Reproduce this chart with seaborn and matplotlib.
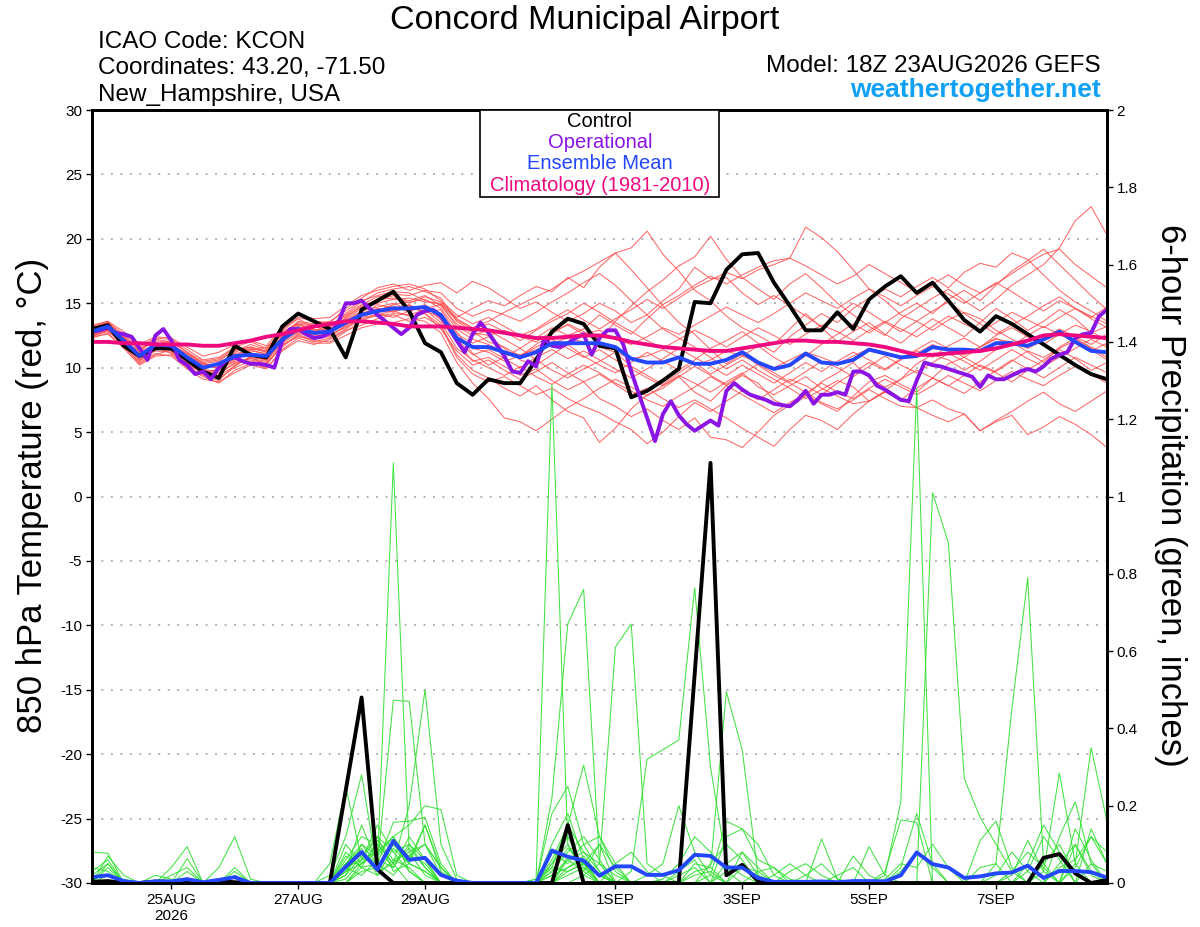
import matplotlib
matplotlib.use("Agg")
import matplotlib.pyplot as plt
import seaborn as sns
import pandas as pd
from matplotlib.patches import Rectangle

# ------------------------------------------------------------------ data
hours6 = list(range(0, 385, 6))      # 18Z 23AUG2026 + forecast hours (6-hourly)
hours3 = list(range(0, 385, 3))      # operational run is 3-hourly

xtick_hours = [30, 78, 126, 198, 246, 294, 342]
xtick_labels = ["25AUG\n2026", "27AUG", "29AUG", "1SEP", "3SEP", "5SEP", "7SEP"]
temp_ticks = [-30, -25, -20, -15, -10, -5, 0, 5, 10, 15, 20, 25, 30]
temp_tick_labels = ["-30", "-25", "-20", "-15", "-10", "-5", "0", "5", "10", "15", "20", "25", "30"]
precip_ticks = [0, 0.2, 0.4, 0.6, 0.8, 1.0, 1.2, 1.4, 1.6, 1.8, 2.0]
precip_tick_labels = ["0", "0.2", "0.4", "0.6", "0.8", "1", "1.2", "1.4", "1.6", "1.8", "2"]

control_temp = [13.0, 13.3, 11.7, 10.9, 11.5, 11.5, 10.6, 9.7, 9.2, 11.7, 11.0, 10.8, 13.2, 14.2, 13.6,
                13.0, 10.8, 14.5, 15.2, 15.9, 14.4, 11.9,
                11.2, 8.8, 7.9, 9.1, 8.8, 8.8, 10.6, 12.8, 13.8, 13.4, 11.7, 11.5, 7.7, 8.2, 9.0, 9.9,
                15.1, 15.0, 17.6, 18.8,
                18.9, 16.6, 14.8, 12.9, 12.9, 14.3, 13.0, 15.3, 16.3, 17.1, 15.8, 16.6, 15.2, 13.7,
                12.8, 14.0, 13.4, 12.6, 11.8, 11.0, 10.2, 9.5, 9.1]

oper_temp = [12.8, 12.9, 13.1, 12.7, 12.6, 12.4, 11.5, 10.6, 12.5, 13.0, 12.1, 10.6, 10.2, 9.5, 9.7,
             9.1, 10.0, 10.6, 10.8, 10.5, 10.3, 10.3, 10.2, 10.0, 12.1, 13.0, 13.0, 12.6, 12.3, 12.4,
             12.7, 13.4, 15.0, 15.0, 15.2, 14.6, 14.1, 13.6, 13.1, 12.6, 13.1, 14.1,
             14.4, 14.5, 14.0, 13.1, 12.1, 11.2, 12.6, 13.5, 12.7, 11.8, 10.9, 9.7, 9.6, 10.5,
             10.1, 12.2, 11.7, 11.6, 11.9, 12.3, 12.6, 11.0, 12.3, 12.9, 12.9, 11.8, 9.7, 7.9,
             6.1, 4.3, 6.4, 7.4, 6.3, 5.6, 5.1, 5.5, 5.9, 5.5, 8.2, 8.8, 8.3, 7.9,
             7.7, 7.5, 7.2, 7.1, 7.0, 7.5, 8.2, 7.2, 7.9, 7.9, 8.1, 7.9, 9.7, 9.7, 9.4, 8.6,
             8.3, 7.9, 7.5, 7.4, 9.0, 10.4, 10.2, 10.1, 9.9, 9.7, 9.5, 9.3, 8.5, 9.4, 9.1, 9.1,
             9.4, 9.7, 9.9, 9.7, 10.1, 10.7, 11.0, 11.2, 12.3, 12.6, 12.7, 14.0, 14.5]

ens_mean_temp = [12.8, 13.2, 12.1, 10.9, 11.8, 11.7, 10.8, 10.0, 10.3, 10.9, 11.0, 10.9, 12.2, 13.0,
                 12.7, 12.8, 13.5, 14.1, 14.4, 14.6, 14.6, 14.7, 14.1, 12.3, 11.6, 11.6, 11.2, 10.8,
                 11.2, 11.9, 11.9, 11.9, 11.9, 11.6, 10.7, 10.4, 10.4, 10.8, 10.3, 10.3, 10.6, 11.2,
                 10.4, 9.9, 10.2, 11.1, 10.4, 10.3, 10.6, 11.4, 11.1, 10.8, 10.9, 11.6, 11.4, 11.4,
                 11.3, 11.9, 11.9, 11.7, 12.2, 12.8, 12.0, 11.3, 11.2]

clim_temp = [12.0, 12.0, 11.9, 11.9, 11.8, 11.8, 11.8, 11.7, 11.7, 11.9, 12.1, 12.4, 12.6, 12.9,
             13.2, 13.4, 13.6, 13.6, 13.5, 13.4, 13.2, 13.2, 13.2, 13.1, 13.0, 12.9, 12.7, 12.5,
             12.3, 12.3, 12.4, 12.5, 12.5, 12.3, 12.0, 11.8, 11.6, 11.5, 11.4, 11.3, 11.3, 11.5,
             11.7, 11.9, 12.1, 12.1, 12.0, 12.0, 11.9, 11.8, 11.6, 11.3, 11.0, 11.0, 11.1, 11.2,
             11.3, 11.5, 11.8, 12.1, 12.5, 12.6, 12.5, 12.4, 12.3]

control_precip = [0.003, 0.005, 0, 0, 0.004, 0.003, 0, 0, 0.005, 0.002, 0, 0, 0, 0, 0, 0,
                  0.24, 0.48, 0.035, 0, 0, 0, 0, 0, 0, 0, 0, 0, 0, 0, 0.15, 0, 0, 0, 0, 0, 0, 0,
                  0.54, 1.087, 0.02, 0.047, 0.005, 0, 0, 0, 0, 0, 0, 0, 0, 0, 0, 0, 0, 0, 0, 0, 0,
                  0, 0.065, 0.075, 0.025, 0, 0.008]

ens_mean_precip = [0.015, 0.02, 0.005, 0, 0.004, 0.004, 0.01, 0.002, 0.008, 0.015, 0, 0, 0, 0, 0,
                   0, 0.042, 0.08, 0.035, 0.109, 0.06, 0.065, 0.021, 0.006, 0, 0, 0, 0, 0, 0.084,
                   0.068, 0.058, 0.019, 0.043, 0.043, 0.021, 0.021, 0.033, 0.073, 0.07, 0.04, 0.04,
                   0.013, 0.003, 0.003, 0.003, 0.004, 0.002, 0.005, 0.005, 0.004, 0.02, 0.079, 0.049,
                   0.04, 0.013, 0.017, 0.025, 0.027, 0.045, 0.013, 0.031, 0.031, 0.028, 0.014]

# 20 perturbed members, 850 hPa temperature (6-hourly)
ens_temp = [
    [13.0, 13.4, 12.0, 11.2, 11.5, 11.9, 10.5, 9.6, 9.9, 10.6, 11.2, 10.6, 12.5, 13.3, 13.0,
     12.6, 13.9, 14.8, 15.2, 15.6, 15.0, 15.5, 15.1, 13.9, 14.6, 15.2, 14.8, 15.6, 16.3, 15.9,
     17.0, 16.2, 17.8, 18.9, 19.3, 20.6, 18.8, 17.5, 16.0, 15.2, 14.0, 13.1, 12.5, 11.8, 13.0,
     14.2, 13.1, 12.0, 12.8, 13.5, 12.6, 11.9, 12.9, 13.8, 13.1, 12.4, 13.5, 14.6, 13.8, 12.9,
     13.6, 14.5, 13.8, 12.7, 13.2],
    [12.6, 13.0, 12.4, 10.6, 11.3, 11.2, 10.0, 9.4, 9.0, 10.2, 10.8, 10.2, 11.8, 12.4, 12.2,
     12.5, 13.2, 14.0, 14.9, 14.6, 14.9, 14.2, 13.3, 11.0, 9.8, 9.2, 8.4, 7.8, 8.6, 7.5,
     6.6, 6.1, 4.2, 5.3, 6.8, 7.9, 8.4, 9.3, 8.1, 7.4, 8.6, 9.4, 8.8, 7.5, 6.9,
     7.8, 8.9, 9.6, 10.4, 9.2, 8.5, 9.1, 10.3, 11.0, 10.6, 9.8, 10.5, 11.4, 12.0, 11.2,
     10.4, 11.6, 12.3, 11.5, 10.8],
    [13.2, 13.6, 12.3, 11.4, 12.2, 12.0, 11.2, 10.3, 10.5, 11.4, 11.6, 11.2, 12.9, 13.8, 13.1,
     13.2, 14.2, 15.1, 15.8, 16.1, 16.3, 15.9, 15.4, 13.6, 12.8, 12.0, 11.6, 10.9, 11.8, 12.6,
     13.4, 12.8, 12.2, 13.6, 14.8, 15.9, 16.8, 17.9, 18.6, 20.2, 18.4, 17.0, 16.1, 15.3, 16.5,
     17.3, 16.2, 15.0, 14.1, 13.2, 12.5, 13.8, 14.6, 15.4, 16.1, 15.2, 14.4, 15.3, 16.4, 17.2,
     18.0, 19.3, 21.4, 22.5, 20.3],
    [12.4, 12.9, 11.7, 10.3, 11.0, 11.4, 10.3, 9.7, 9.8, 10.5, 10.6, 10.4, 11.6, 12.6, 12.1,
     12.0, 12.8, 13.6, 14.2, 13.9, 14.4, 14.8, 13.7, 12.0, 10.5, 10.8, 10.1, 9.4, 9.9, 9.0,
     8.3, 8.9, 7.6, 7.0, 6.2, 6.8, 5.9, 5.2, 6.1, 4.6, 4.4, 3.8, 5.0, 6.3, 7.1,
     7.9, 7.2, 6.6, 7.8, 8.9, 9.4, 8.7, 8.1, 9.2, 10.3, 10.8, 10.1, 9.6, 8.9, 9.8,
     10.6, 11.4, 10.7, 9.8, 10.4],
    [12.9, 13.1, 12.2, 11.0, 11.9, 11.6, 10.9, 10.1, 10.0, 10.7, 11.4, 11.0, 12.4, 13.2, 12.9,
     13.0, 13.7, 14.4, 14.7, 15.0, 14.5, 14.6, 14.9, 13.2, 12.5, 12.9, 12.2, 11.5, 12.3, 13.1,
     12.5, 13.0, 14.1, 13.3, 12.6, 13.8, 14.9, 15.6, 16.4, 17.1, 16.5, 17.2, 17.8, 18.3, 18.5,
     20.9, 20.1, 19.0, 17.6, 16.1, 15.2, 14.1, 13.6, 12.9, 13.7, 14.3, 13.8, 12.9, 12.2, 11.6,
     12.3, 13.0, 12.4, 11.8, 12.6],
    [12.7, 13.3, 11.9, 10.8, 12.0, 11.3, 10.6, 9.9, 10.4, 11.0, 11.1, 10.8, 12.0, 13.1, 12.6,
     12.9, 13.4, 14.0, 14.6, 14.3, 14.8, 14.3, 14.5, 12.6, 11.9, 12.4, 11.5, 10.6, 10.2, 11.0,
     11.8, 10.9, 10.2, 9.6, 10.4, 11.2, 10.5, 9.8, 10.6, 11.5, 12.1, 12.8, 11.9, 11.2, 12.4,
     13.3, 14.2, 13.5, 14.6, 15.4, 16.1, 15.5, 16.3, 17.0, 16.2, 17.4, 18.1, 17.8, 18.9, 18.4,
     17.2, 16.0, 15.1, 14.4, 13.6],
    [12.5, 12.8, 12.0, 10.9, 11.6, 11.8, 10.9, 10.3, 10.1, 10.8, 10.9, 10.6, 12.1, 12.8, 12.4,
     12.7, 13.5, 14.2, 14.5, 14.8, 14.3, 14.9, 14.0, 12.4, 11.5, 11.2, 10.5, 10.9, 11.6, 12.2,
     11.5, 10.8, 11.4, 10.6, 9.9, 9.2, 8.6, 9.4, 8.8, 8.1, 8.9, 9.6, 8.5, 7.9, 8.6,
     9.3, 8.4, 7.8, 7.2, 7.4, 8.1, 7.6, 6.9, 7.5, 6.8, 6.4, 5.1, 5.8, 6.3, 4.8,
     5.4, 6.2, 5.6, 4.8, 3.8],
    [13.1, 13.5, 12.6, 11.6, 12.3, 12.2, 11.4, 10.6, 10.8, 11.6, 12.0, 11.5, 13.0, 13.9, 13.6,
     13.5, 14.6, 15.4, 16.2, 16.5, 16.0, 16.4, 16.6, 15.8, 16.7, 16.2, 15.4, 14.6, 15.1, 14.3,
     13.6, 14.2, 15.0, 14.4, 13.5, 14.1, 15.2, 16.1, 17.8, 16.9, 17.0, 15.8, 14.9, 15.6, 14.8,
     14.0, 13.2, 14.1, 15.0, 14.3, 13.5, 12.8, 13.6, 14.4, 15.1, 14.2, 13.4, 12.6, 13.3, 14.0,
     14.8, 15.5, 14.6, 13.9, 14.7],
    [12.3, 12.7, 11.5, 10.2, 10.9, 11.0, 10.1, 9.3, 8.8, 9.8, 10.3, 10.0, 11.3, 12.1, 11.8,
     12.2, 12.9, 13.3, 13.8, 14.1, 13.6, 13.9, 13.2, 10.8, 9.5, 8.9, 9.3, 8.6, 7.9, 8.4,
     7.6, 7.0, 6.5, 5.8, 5.2, 4.1, 5.0, 6.2, 7.3, 6.6, 7.4, 8.2, 7.5, 8.3, 9.1,
     8.6, 7.9, 8.8, 9.6, 10.4, 9.8, 10.6, 11.3, 10.8, 11.7, 12.3, 11.6, 12.5, 13.1, 12.4,
     11.8, 12.6, 13.3, 12.8, 12.1],
    [12.8, 13.2, 12.3, 11.1, 11.8, 11.5, 10.8, 10.2, 10.3, 11.1, 11.3, 11.1, 12.2, 13.0, 12.8,
     12.9, 13.6, 14.3, 14.4, 14.9, 15.1, 15.3, 14.6, 13.0, 12.2, 11.8, 11.2, 11.0, 11.4, 11.9,
     12.3, 12.0, 11.6, 11.2, 10.7, 10.9, 11.4, 10.8, 10.2, 10.6, 11.3, 10.9, 10.4, 10.0, 10.6,
     11.2, 10.8, 10.3, 10.9, 11.5, 11.2, 10.7, 11.1, 11.8, 11.3, 11.0, 11.6, 12.2, 12.0, 11.5,
     12.1, 12.6, 12.2, 11.6, 11.0],
    [13.0, 13.3, 12.5, 11.3, 12.1, 11.9, 11.0, 10.4, 10.6, 11.3, 11.8, 11.4, 12.7, 13.5, 13.3,
     13.3, 14.1, 14.9, 15.5, 15.7, 15.6, 16.0, 15.8, 14.6, 14.0, 14.5, 14.1, 13.6, 14.3, 15.1,
     15.8, 16.6, 17.3, 16.4, 15.2, 14.1, 13.0, 12.3, 11.6, 10.8, 9.9, 10.6, 9.8, 9.1, 8.4,
     7.6, 8.3, 9.0, 8.5, 7.4, 8.2, 9.1, 9.8, 9.2, 8.6, 9.4, 10.2, 9.7, 10.5, 11.3,
     10.8, 11.5, 12.1, 11.4, 10.6],
    [12.6, 13.0, 11.8, 10.5, 11.4, 11.6, 10.7, 9.8, 9.5, 10.4, 10.7, 10.5, 11.9, 12.7, 12.3,
     12.4, 13.3, 14.1, 14.3, 14.4, 14.6, 14.4, 13.9, 12.8, 11.1, 10.2, 10.8, 11.5, 10.6, 9.8,
     9.2, 9.9, 10.5, 11.2, 10.1, 9.4, 8.7, 9.6, 10.4, 9.5, 10.2, 10.9, 11.7, 10.8, 10.1,
     10.9, 11.8, 12.6, 13.4, 12.7, 13.5, 14.3, 15.0, 14.2, 15.3, 16.0, 15.2, 16.4, 17.5, 18.3,
     19.2, 18.0, 16.8, 15.6, 14.5],
    [12.9, 13.4, 12.1, 10.7, 11.6, 11.1, 10.4, 9.5, 9.2, 10.0, 10.5, 10.3, 11.7, 12.5, 12.0,
     12.3, 13.0, 13.8, 14.0, 14.2, 14.1, 14.5, 13.5, 11.5, 10.6, 10.0, 9.4, 10.1, 9.3, 8.7,
     9.5, 10.2, 9.6, 8.8, 8.2, 7.5, 7.0, 7.8, 8.5, 9.3, 8.6, 7.9, 7.2, 6.5, 7.3,
     8.0, 8.8, 8.1, 7.6, 8.4, 9.1, 8.5, 7.9, 8.6, 9.4, 8.8, 8.2, 9.0, 9.7, 9.1,
     8.6, 9.4, 10.1, 9.5, 8.8],
    [13.3, 13.6, 12.8, 11.8, 12.4, 12.3, 11.6, 10.9, 11.2, 11.8, 12.1, 11.7, 13.2, 14.1, 13.8,
     13.9, 14.8, 15.6, 16.0, 16.3, 16.5, 16.1, 15.2, 14.1, 13.4, 13.9, 13.2, 12.5, 13.0, 13.8,
     14.5, 13.7, 13.0, 13.8, 14.5, 15.3, 14.6, 15.4, 16.2, 16.8, 17.4, 16.9, 17.6, 18.0, 18.5,
     17.9, 17.2, 16.5, 17.1, 18.0, 17.3, 16.6, 15.9, 16.5, 17.2, 16.4, 15.8, 16.6, 15.9, 15.1,
     14.4, 15.2, 14.6, 13.8, 13.1],
    [12.4, 12.6, 11.6, 10.4, 11.1, 10.9, 9.9, 9.1, 8.9, 9.6, 10.2, 9.9, 11.4, 12.3, 11.9,
     11.9, 12.5, 13.1, 13.4, 13.5, 13.8, 13.6, 12.7, 10.4, 8.8, 7.6, 6.1, 5.8, 5.1, 6.0,
     6.9, 7.6, 8.4, 9.1, 8.5, 7.8, 8.6, 9.3, 10.1, 9.4, 8.7, 9.5, 10.3, 9.6, 8.9,
     9.7, 10.5, 10.0, 9.3, 10.1, 10.9, 10.2, 9.6, 10.4, 11.1, 10.5, 9.8, 10.6, 11.4, 10.7,
     10.1, 10.8, 11.5, 12.2, 11.6],
    [12.7, 13.1, 12.0, 11.3, 11.7, 11.7, 11.1, 10.3, 9.9, 10.9, 11.5, 11.2, 12.6, 13.4, 13.2,
     12.8, 13.8, 14.6, 15.0, 15.3, 15.4, 15.1, 15.0, 13.8, 13.1, 13.6, 14.3, 14.9, 15.5, 16.1,
     16.9, 17.5, 18.2, 18.9, 17.6, 16.2, 14.8, 13.5, 12.6, 11.4, 10.3, 11.1, 10.2, 9.4, 8.8,
     8.1, 7.3, 6.8, 7.5, 8.3, 7.6, 7.0, 6.9, 6.3, 5.8, 6.4, 5.1, 5.9, 6.6, 7.4,
     8.1, 7.2, 6.6, 7.4, 8.2],
    [12.8, 13.0, 12.4, 11.5, 12.0, 11.4, 10.7, 10.0, 10.2, 11.2, 11.6, 11.3, 12.8, 13.4, 12.9,
     13.1, 14.0, 14.7, 15.3, 15.4, 15.2, 15.6, 14.8, 13.4, 12.7, 12.5, 12.9, 12.4, 12.0, 12.8,
     13.3, 12.6, 12.9, 12.2, 11.8, 12.4, 13.1, 12.6, 13.3, 14.0, 14.7, 14.1, 13.5, 14.2, 15.0,
     15.8, 15.2, 14.6, 15.4, 16.1, 15.5, 14.8, 15.6, 16.3, 15.7, 15.0, 15.8, 16.5, 17.3, 18.1,
     18.8, 19.2, 18.0, 17.1, 16.2],
    [12.5, 12.9, 11.9, 10.6, 11.5, 11.3, 10.2, 9.6, 9.4, 10.1, 10.9, 10.7, 12.0, 12.9, 12.5,
     12.6, 13.1, 13.9, 14.1, 14.4, 14.0, 14.2, 13.0, 11.3, 10.2, 10.6, 9.8, 9.1, 9.7, 10.4,
     9.6, 8.9, 9.5, 8.7, 7.9, 8.4, 7.6, 6.9, 7.5, 6.8, 6.1, 5.3, 4.6, 3.9, 5.2,
     6.3, 5.9, 5.2, 6.4, 7.4, 8.1, 7.5, 8.4, 9.2, 8.6, 8.0, 8.9, 9.8, 10.6, 9.9,
     9.2, 10.0, 10.8, 10.2, 9.6],
    [13.1, 13.5, 12.2, 11.0, 11.8, 12.1, 11.2, 10.5, 10.7, 11.5, 11.4, 11.6, 12.5, 13.6, 13.4,
     13.6, 14.4, 15.2, 15.6, 15.9, 15.8, 15.2, 14.9, 13.7, 13.0, 13.4, 12.8, 12.1, 12.9, 13.6,
     14.2, 15.0, 14.3, 13.5, 12.8, 12.1, 11.5, 12.2, 12.9, 12.3, 11.6, 12.4, 13.1, 12.5, 11.8,
     12.6, 13.3, 12.8, 12.1, 12.9, 13.6, 13.0, 12.4, 13.2, 14.0, 13.4, 12.8, 13.5, 14.3, 13.7,
     13.1, 13.9, 14.6, 14.0, 13.4],
    [12.6, 12.9, 12.0, 10.8, 11.7, 11.5, 10.5, 9.9, 9.6, 10.3, 10.8, 10.6, 12.1, 12.9, 12.6,
     12.7, 13.4, 14.0, 14.3, 14.6, 14.8, 14.6, 14.1, 12.2, 11.0, 11.4, 10.7, 10.0, 10.8, 11.4,
     10.7, 11.3, 10.6, 9.9, 9.2, 9.9, 10.7, 11.5, 10.8, 10.1, 9.4, 10.2, 9.5, 8.8, 9.6,
     10.4, 9.7, 10.5, 11.2, 10.6, 9.9, 10.7, 11.4, 12.1, 11.5, 10.8, 11.6, 12.3, 11.7, 12.5,
     13.2, 12.6, 12.0, 11.3, 11.9],
]

# 20 perturbed members, 6-hour precipitation; {forecast step: inches}, other steps are 0
ens_precip = [
    {0: 0.08, 1: 0.077, 16: 0.05, 17: 0.1, 18: 0.05, 19: 1.087, 20: 0.08, 21: 0.02, 29: 0.05,
     30: 0.12, 31: 0.04, 40: 0.03, 41: 0.05, 57: 0.05, 58: 0.45, 59: 0.79, 60: 0.05},
    {1: 0.07, 2: 0.02, 16: 0.03, 17: 0.08, 18: 0.05, 19: 0.473, 20: 0.47, 21: 0.1, 22: 0.02,
     29: 0.1, 30: 0.18, 31: 0.06, 32: 0.02, 38: 0.05, 39: 0.04, 61: 0.12, 62: 0.21, 63: 0.05},
    {0: 0.03, 1: 0.06, 6: 0.063, 16: 0.06, 17: 0.12, 18: 0.1, 19: 0.05, 20: 0.2, 21: 0.5,
     22: 0.1, 23: 0.01, 29: 0.08, 30: 0.05, 31: 0.1, 32: 0.12, 33: 0.03, 37: 0.03, 38: 0.06,
     62: 0.14, 63: 0.06},
    {5: 0.04, 6: 0.094, 16: 0.1, 17: 0.05, 18: 0.08, 19: 0.12, 20: 0.15, 21: 0.2, 22: 0.19,
     23: 0.02, 29: 0.05, 30: 0.1, 31: 0.03, 33: 0.05, 34: 0.08, 35: 0.03, 60: 0.03, 61: 0.285,
     62: 0.05},
    {0: 0.02, 1: 0.05, 15: 0.02, 16: 0.12, 17: 0.28, 18: 0.03, 19: 0.1, 20: 0.05, 21: 0.03,
     30: 0.07, 31: 0.05, 32: 0.1, 39: 0.02, 40: 0.16, 41: 0.14, 42: 0.1, 43: 0.02, 62: 0.05,
     63: 0.35, 64: 0.16},
    {8: 0.04, 9: 0.12, 10: 0.01, 15: 0.05, 16: 0.25, 17: 0.06, 18: 0.12, 19: 0.08, 20: 0.1,
     21: 0.04, 28: 0.01, 29: 0.04, 30: 0.15, 31: 0.08, 32: 0.05, 46: 0.114, 47: 0.01, 58: 0.02,
     59: 0.11, 60: 0.03},
    {1: 0.04, 9: 0.04, 16: 0.08, 17: 0.04, 18: 0.05, 19: 0.157, 20: 0.16, 21: 0.17, 22: 0.05,
     29: 0.03, 30: 0.08, 31: 0.12, 32: 0.06, 41: 0.08, 42: 0.02, 56: 0.11, 57: 0.16, 58: 0.04,
     63: 0.14, 64: 0.05},
    {2: 0.01, 16: 0.04, 17: 0.06, 18: 0.15, 19: 0.08, 20: 0.03, 28: 0.01, 29: 1.29, 30: 0.1,
     31: 0.02, 37: 0.02, 38: 0.04, 48: 0.07, 49: 0.02, 62: 0.1, 63: 0.03},
    {16: 0.02, 17: 0.1, 18: 0.07, 19: 0.12, 20: 0.06, 21: 0.15, 22: 0.03, 29: 0.22, 30: 0.67,
     31: 0.76, 32: 0.05, 33: 0.02, 39: 0.05, 40: 0.1, 41: 0.06, 44: 0.03, 45: 0.05, 46: 0.02},
    {4: 0.02, 5: 0.01, 17: 0.05, 18: 0.09, 19: 0.04, 20: 0.12, 21: 0.06, 31: 0.02, 32: 0.05,
     33: 0.61, 34: 0.67, 35: 0.05, 36: 0.02, 49: 0.094, 50: 0.02, 59: 0.03, 60: 0.12, 61: 0.06},
    {9: 0.02, 16: 0.07, 17: 0.04, 18: 0.11, 19: 0.06, 20: 0.04, 30: 0.03, 31: 0.05, 32: 0.02,
     34: 0.03, 35: 0.32, 36: 0.345, 37: 0.37, 38: 0.764, 39: 0.3, 40: 0.05, 41: 0.02, 58: 0.03,
     59: 0.08, 60: 0.04},
    {0: 0.04, 1: 0.03, 16: 0.05, 17: 0.08, 18: 0.03, 19: 0.05, 20: 0.09, 21: 0.04, 29: 0.18,
     30: 0.25, 31: 0.1, 32: 0.03, 42: 0.03, 43: 0.04, 44: 0.01, 51: 0.03, 52: 0.08, 53: 0.04},
    {16: 0.03, 17: 0.15, 18: 0.05, 19: 0.02, 20: 0.07, 21: 0.1, 22: 0.04, 29: 0.06, 30: 0.15,
     31: 0.305, 32: 0.12, 33: 0.05, 36: 0.01, 37: 0.05, 38: 0.12, 39: 0.08, 40: 0.03, 61: 0.05,
     62: 0.1, 63: 0.02},
    {6: 0.03, 16: 0.05, 17: 0.09, 18: 0.02, 19: 0.09, 20: 0.05, 21: 0.03, 30: 0.04, 31: 0.06,
     38: 0.03, 39: 0.04, 40: 0.495, 41: 0.344, 42: 0.02, 50: 0.01, 51: 0.05, 52: 0.04, 53: 0.1,
     54: 0.04},
    {1: 0.02, 17: 0.03, 18: 0.04, 19: 0.1, 20: 0.07, 21: 0.05, 29: 0.03, 30: 0.09, 31: 0.05,
     35: 0.02, 36: 0.05, 37: 0.2, 38: 0.08, 39: 0.02, 45: 0.02, 46: 0.05, 47: 0.01, 59: 0.05,
     60: 0.15, 61: 0.08},
    {16: 0.01, 17: 0.06, 18: 0.08, 19: 0.12, 20: 0.03, 29: 0.02, 30: 0.06, 31: 0.03, 32: 0.1,
     33: 0.04, 40: 0.12, 41: 0.14, 42: 0.06, 43: 0.04, 47: 0.02, 48: 0.04, 62: 0.04, 63: 0.12,
     64: 0.08},
    {9: 0.03, 16: 0.03, 17: 0.05, 18: 0.1, 19: 0.05, 29: 0.04, 30: 0.03, 31: 0.05, 38: 0.02,
     39: 0.03, 50: 0.02, 51: 0.21, 52: 1.28, 57: 0.02, 58: 0.08, 59: 0.03},
    {16: 0.04, 17: 0.02, 18: 0.06, 19: 0.04, 20: 0.1, 21: 0.06, 30: 0.02, 31: 0.04, 32: 0.02,
     41: 0.04, 42: 0.03, 53: 1.01, 54: 0.88, 55: 0.27, 56: 0.17, 57: 0.1, 58: 0.03, 63: 0.05,
     64: 0.03},
    {0: 0.01, 17: 0.04, 18: 0.02, 19: 0.06, 20: 0.08, 21: 0.1, 22: 0.04, 30: 0.06, 31: 0.08,
     32: 0.03, 43: 0.02, 44: 0.05, 45: 0.02, 50: 0.03, 51: 0.163, 52: 0.157, 61: 0.04, 62: 0.06,
     63: 0.12, 64: 0.05},
    {1: 0.05, 5: 0.02, 6: 0.04, 16: 0.02, 17: 0.07, 18: 0.12, 19: 0.03, 20: 0.05, 21: 0.15,
     22: 0.04, 29: 0.02, 30: 0.04, 31: 0.07, 32: 0.02, 40: 0.05, 41: 0.08, 42: 0.04, 51: 0.04,
     52: 0.18, 53: 0.05, 56: 0.04, 57: 0.05, 60: 0.05, 61: 0.1, 62: 0.02},
]

for _m in ens_temp:
    assert len(_m) == 65, len(_m)
assert len(oper_temp) == 129 and len(control_temp) == 65 and len(ens_mean_temp) == 65
assert len(clim_temp) == 65 and len(control_precip) == 65 and len(ens_mean_precip) == 65

# ------------------------------------------------------------------ style
sns.set_style("ticks")
plt.rcParams["font.family"] = ["Liberation Sans", "DejaVu Sans"]
plt.rcParams["axes.unicode_minus"] = False
plt.rcParams["text.color"] = "black"
plt.rcParams["axes.labelcolor"] = "black"
plt.rcParams["xtick.color"] = "black"
plt.rcParams["ytick.color"] = "black"
plt.rcParams["axes.edgecolor"] = "black"

RED = "#ff4d4d"
GREEN = "#2ee02e"
PURPLE = "#8a14e6"
BLUE = "#2346ff"
PINK = "#f0087f"
SITE = "#10a0f5"

fig = plt.figure(figsize=(12, 9.27), dpi=100)
ax = fig.add_axes([92 / 1200, 1 - 883 / 927, (1107 - 92) / 1200, (883 - 110) / 927])
ax2 = ax.twinx()

# temperature members
rows = [(m, h, v) for m, vals in enumerate(ens_temp) for h, v in zip(hours6, vals)]
df_t = pd.DataFrame(rows, columns=["member", "hour", "temp"])
sns.lineplot(data=df_t, x="hour", y="temp", units="member", estimator=None,
             color=RED, linewidth=0.75, alpha=0.85, ax=ax, legend=False)
sns.lineplot(x=hours6, y=control_temp, color="black", linewidth=2.8, ax=ax)
sns.lineplot(x=hours3, y=oper_temp, color=PURPLE, linewidth=2.8, ax=ax)
sns.lineplot(x=hours6, y=ens_mean_temp, color=BLUE, linewidth=2.8, ax=ax)
sns.lineplot(x=hours6, y=clim_temp, color=PINK, linewidth=2.8, ax=ax)

# precipitation members
rows = [(m, h, d.get(i, 0.0)) for m, d in enumerate(ens_precip) for i, h in enumerate(hours6)]
df_p = pd.DataFrame(rows, columns=["member", "hour", "precip"])
sns.lineplot(data=df_p, x="hour", y="precip", units="member", estimator=None,
             color=GREEN, linewidth=0.75, alpha=0.9, ax=ax2, legend=False)
sns.lineplot(x=hours6, y=control_precip, color="black", linewidth=2.8, ax=ax2)
sns.lineplot(x=hours6, y=ens_mean_precip, color=BLUE, linewidth=2.8, ax=ax2)

# axes
ax.set_xlim(0, 384)
ax.set_ylim(-30, 30)
ax2.set_ylim(0, 2)
ax.set_xlabel("")
ax.set_ylabel("")
ax2.set_ylabel("")
ax.set_yticks(temp_ticks)
ax.set_yticklabels(temp_tick_labels)
ax2.set_yticks(precip_ticks)
ax2.set_yticklabels(precip_tick_labels)
ax.set_xticks(xtick_hours)
ax.set_xticklabels(xtick_labels)
ax.tick_params(axis="both", direction="out", length=4, width=1, labelsize=11, pad=3,
               colors="black")
ax2.tick_params(axis="y", direction="out", length=4, width=1, labelsize=11, pad=3,
                colors="black")
ax.yaxis.grid(True, linestyle=(0, (1.2, 5)), color="#9a9a9a", linewidth=1.1)
ax.xaxis.grid(False)
ax.set_axisbelow(True)
for a in (ax, ax2):
    for s in a.spines.values():
        s.set_linewidth(2)
        s.set_color("black")

# legend box
ax2.add_patch(Rectangle(((480 - 92) / 1015, 1 - 87 / 773), 239 / 1015, 87 / 773,
                        transform=ax2.transAxes, facecolor="white", edgecolor="black",
                        linewidth=1.2, zorder=20, clip_on=False))
leg_items = [("Control", "black", 127), ("Operational", PURPLE, 148),
             ("Ensemble Mean", BLUE, 169), ("Climatology (1981-2010)", PINK, 191)]
for txt, col, yb in leg_items:
    fig.text(600 / 1200, 1 - yb / 927, txt, color=col, fontsize=14.5, ha="center", va="baseline")

# header texts
fig.text(585 / 1200, 1 - 29 / 927, "Concord Municipal Airport", fontsize=24.5, ha="center",
         va="baseline", color="black")
fig.text(98 / 1200, 1 - 48 / 927, "ICAO Code: KCON", fontsize=17.5, ha="left", va="baseline",
         color="black")
fig.text(98 / 1200, 1 - 74 / 927, "Coordinates: 43.20, -71.50", fontsize=17.5, ha="left",
         va="baseline", color="black")
fig.text(98 / 1200, 1 - 101 / 927, "New_Hampshire, USA", fontsize=17.5, ha="left",
         va="baseline", color="black")
fig.text(1101 / 1200, 1 - 72 / 927, "Model: 18Z 23AUG2026 GEFS", fontsize=17.5, ha="right",
         va="baseline", color="black")
fig.text(1101 / 1200, 1 - 97 / 927, "weathertogether.net", fontsize=19, fontweight="bold",
         color=SITE, ha="right", va="baseline")

# axis titles
fig.text(33 / 1200, 1 - 495 / 927, "850 hPa Temperature (red, \u00b0C)", fontsize=25,
         rotation=90, ha="center", va="center", color="black")
fig.text(1170 / 1200, 1 - 495 / 927, "6-hour Precipitation (green, inches)", fontsize=25,
         rotation=270, ha="center", va="center", color="black")

fig.savefig("out.png", dpi=100)
